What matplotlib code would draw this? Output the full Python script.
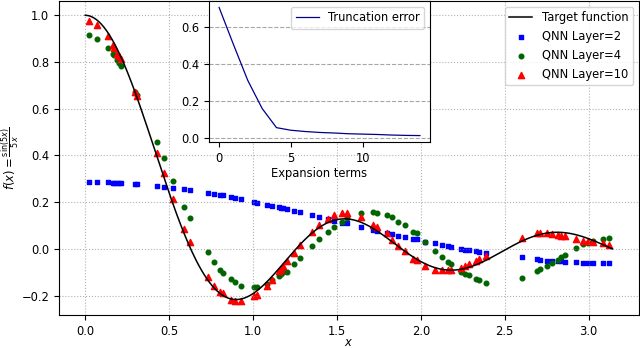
import matplotlib
matplotlib.use("Agg")
import matplotlib.pyplot as plt
import numpy as np

plt.rcParams["font.size"] = 8.3

# sample points shared by the three QNN models
x_pts = [0.024, 0.068, 0.137, 0.166, 0.172, 0.192, 0.202, 0.216, 0.297, 0.307,
         0.430, 0.469, 0.525, 0.588, 0.624, 0.731, 0.767, 0.806, 0.822, 0.866,
         0.895, 0.929, 1.008, 1.024, 1.084, 1.113, 1.153, 1.166, 1.178, 1.203,
         1.242, 1.278, 1.351, 1.396, 1.444, 1.484, 1.529, 1.563, 1.642, 1.717,
         1.741, 1.797, 1.826, 1.866, 1.905, 1.955, 1.975, 2.024, 2.084, 2.124,
         2.163, 2.177, 2.242, 2.262, 2.287, 2.327, 2.347, 2.391, 2.605, 2.692,
         2.708, 2.751, 2.783, 2.817, 2.837, 2.857, 2.926, 2.966, 2.996, 3.025,
         3.085, 3.124]

qnn2 = [0.288, 0.285, 0.285, 0.284, 0.284, 0.284, 0.284, 0.284, 0.279, 0.279,
        0.271, 0.266, 0.261, 0.256, 0.252, 0.239, 0.235, 0.231, 0.231, 0.224,
        0.219, 0.212, 0.202, 0.198, 0.188, 0.184, 0.178, 0.175, 0.173, 0.170,
        0.164, 0.157, 0.145, 0.138, 0.127, 0.121, 0.112, 0.110, 0.095, 0.081,
        0.077, 0.067, 0.064, 0.057, 0.050, 0.043, 0.041, 0.030, 0.024, 0.017,
        0.010, 0.007, 0.000, -0.004, -0.007, -0.011, -0.012, -0.019, -0.037, -0.044,
        -0.046, -0.050, -0.051, -0.054, -0.054, -0.055, -0.058, -0.060, -0.060, -0.060,
        -0.061, -0.062]

qnn4 = [0.915, 0.900, 0.862, 0.836, 0.829, 0.808, 0.796, 0.782, 0.672, 0.660,
        0.459, 0.388, 0.290, 0.181, 0.131, -0.014, -0.056, -0.090, -0.104, -0.130,
        -0.144, -0.158, -0.165, -0.164, -0.150, -0.135, -0.118, -0.108, -0.098, -0.098,
        -0.064, -0.040, 0.013, 0.041, 0.074, 0.094, 0.116, 0.130, 0.155, 0.157,
        0.152, 0.145, 0.135, 0.117, 0.103, 0.074, 0.067, 0.031, -0.011, -0.033,
        -0.055, -0.065, -0.101, -0.108, -0.114, -0.128, -0.134, -0.145, -0.126, -0.095,
        -0.088, -0.073, -0.060, -0.046, -0.035, -0.025, 0.005, 0.020, 0.025, 0.033,
        0.043, 0.048]

qnn10 = [0.975, 0.960, 0.910, 0.875, 0.862, 0.836, 0.825, 0.815, 0.672, 0.655,
         0.409, 0.325, 0.212, 0.085, 0.031, -0.121, -0.158, -0.187, -0.190, -0.218,
         -0.222, -0.222, -0.201, -0.197, -0.158, -0.132, -0.097, -0.088, -0.075, -0.054,
         -0.016, 0.017, 0.074, 0.103, 0.127, 0.145, 0.152, 0.152, 0.138, 0.103,
         0.093, 0.068, 0.038, 0.013, -0.011, -0.044, -0.047, -0.073, -0.090, -0.092,
         -0.092, -0.092, -0.081, -0.074, -0.067, -0.053, -0.045, -0.031, 0.047, 0.066,
         0.069, 0.066, 0.064, 0.060, 0.057, 0.054, 0.043, 0.033, 0.033, 0.028,
         0.023, 0.018]

terms = list(range(15))
trunc_err = [0.706, 0.505, 0.310, 0.158, 0.054, 0.040, 0.033, 0.028, 0.025, 0.021,
             0.019, 0.017, 0.014, 0.012, 0.011]

# target function, as named on the y label
x_line = np.linspace(0, np.pi, 400)
y_line = np.sinc(5 * x_line / np.pi)

fig, ax = plt.subplots(figsize=(6.4, 3.48), dpi=100)
fig.subplots_adjust(left=0.092, right=0.998, top=0.997, bottom=0.095)

ax.plot(x_line, y_line, color="k", lw=1.1, label="Target function")
ax.scatter(x_pts, qnn2, marker="s", s=11, color="b", label="QNN Layer=2")
ax.scatter(x_pts, qnn4, marker="o", s=11, color="#006400", label="QNN Layer=4")
ax.scatter(x_pts, qnn10, marker="^", s=20, color="r", label="QNN Layer=10")
ax.grid(True, linestyle=":", color="gray", alpha=0.6)
ax.set_xlabel(r"$x$", labelpad=-1.5)
ax.set_ylabel(r"$f(x)=\frac{\sin(5x)}{5x}$", labelpad=0)
ax.legend(loc="upper right")

ins = ax.inset_axes([0.259, 0.551, 0.381, 0.449])
ins.plot(terms, trunc_err, color="darkblue", lw=0.9, label="Truncation error")
ins.grid(True, axis="y", linestyle="--", color="gray", alpha=0.7)
ins.set_xlabel("Expansion terms", labelpad=2)
ins.legend(loc="upper right")

fig.savefig("out.png", dpi=100)
